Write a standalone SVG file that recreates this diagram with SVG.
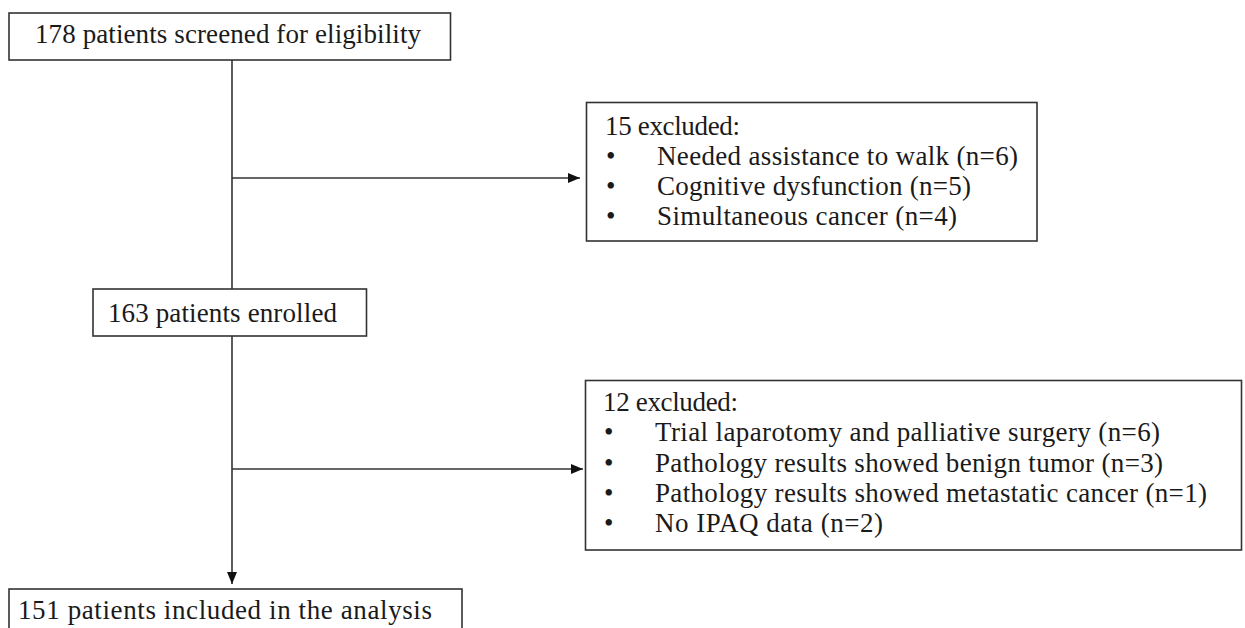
<svg xmlns="http://www.w3.org/2000/svg" width="1245" height="628" viewBox="0 0 1245 628">
<style>
  .box{fill:#fff;stroke:#333;stroke-width:1.6}
  .t{font-family:"Liberation Serif","Times New Roman",serif;font-size:27px;fill:#1a1a1a}
  .ln{stroke:#333;stroke-width:1.6;fill:none}
</style>
<defs>
  <marker id="ah" markerUnits="userSpaceOnUse" markerWidth="12" markerHeight="10" refX="12" refY="5" orient="auto">
    <path d="M0,0 L12,5 L0,10 z" fill="#111"/>
  </marker>
</defs>
<rect width="1245" height="628" fill="#fff"/>
<g id="connectors">
  <line class="ln" x1="232" y1="60" x2="232" y2="289"/>
  <line class="ln" x1="232" y1="178" x2="580" y2="178" marker-end="url(#ah)"/>
  <line class="ln" x1="232" y1="336" x2="232" y2="584" marker-end="url(#ah)"/>
  <line class="ln" x1="232" y1="469" x2="583" y2="469" marker-end="url(#ah)"/>
</g>
<g id="screened">
  <rect class="box" x="9" y="13" width="441.5" height="47"/>
  <text class="t" x="35" y="43" textLength="386" lengthAdjust="spacing">178 patients  screened  for eligibility</text>
</g>
<g id="excluded15">
  <rect class="box" x="586.5" y="102.5" width="450.5" height="138.5"/>
  <text class="t" x="605" y="135" textLength="135" lengthAdjust="spacing">15 excluded:</text>
  <text class="t" x="606" y="165">•</text>
  <text class="t" x="657" y="165" textLength="361" lengthAdjust="spacing">Needed  assistance to walk (n=6)</text>
  <text class="t" x="606" y="195">•</text>
  <text class="t" x="657" y="195" textLength="314" lengthAdjust="spacing">Cognitive  dysfunction (n=5)</text>
  <text class="t" x="606" y="225">•</text>
  <text class="t" x="657" y="225" textLength="300" lengthAdjust="spacing">Simultaneous  cancer (n=4)</text>
</g>
<g id="enrolled">
  <rect class="box" x="93" y="289" width="273.5" height="47"/>
  <text class="t" x="108" y="322" textLength="229" lengthAdjust="spacing">163 patients  enrolled</text>
</g>
<g id="excluded12">
  <rect class="box" x="585.5" y="380.5" width="656" height="169.5"/>
  <text class="t" x="603" y="411" textLength="135" lengthAdjust="spacing">12 excluded:</text>
  <text class="t" x="604" y="441">•</text>
  <text class="t" x="655" y="441" textLength="505" lengthAdjust="spacing">Trial  laparotomy and palliative  surgery (n=6)</text>
  <text class="t" x="604" y="472">•</text>
  <text class="t" x="655" y="472" textLength="508" lengthAdjust="spacing">Pathology results showed benign tumor (n=3)</text>
  <text class="t" x="604" y="502">•</text>
  <text class="t" x="655" y="502" textLength="552" lengthAdjust="spacing">Pathology results showed metastatic  cancer (n=1)</text>
  <text class="t" x="604" y="532">•</text>
  <text class="t" x="655" y="532" textLength="228" lengthAdjust="spacing">No IPAQ data (n=2)</text>
</g>
<g id="included">
  <rect class="box" x="9" y="589" width="453" height="60"/>
  <text class="t" x="18" y="619" textLength="414" lengthAdjust="spacing">151 patients  included  in the analysis</text>
</g>
</svg>
